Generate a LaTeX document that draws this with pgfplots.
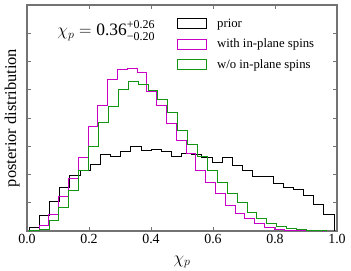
\documentclass[border=0pt]{standalone}
\usepackage{fontspec}
\setmainfont{Liberation Serif}
\usepackage{pgfplots}
\pgfplotsset{compat=1.18}
\definecolor{cmag}{RGB}{200,0,200}
\definecolor{cgrn}{RGB}{20,150,20}
\definecolor{cframe}{RGB}{115,115,115}
\begin{document}
\begin{tikzpicture}
\begin{axis}[name=ax,
  width=310bp, height=226bp, scale only axis,
  xmin=0, xmax=1, ymin=0, ymax=8,
  xtick={0,0.2,0.4,0.6,0.8,1.0},
  ytick={0,1,2,3,4,5,6,7,8}, yticklabels={},
  /pgf/number format/assume math mode=true,
  xticklabel style={/pgf/number format/.cd, fixed, fixed zerofill, precision=1},
  tick label style={font=\fontsize{14}{16}\selectfont},
  tick align=inside,
  major tick length=4bp,
  tick style={cframe, line width=0.8pt},
  axis line style={cframe, line width=1.2pt},
  xlabel={$\chi_p$},
  xlabel style={font=\fontsize{17}{19}\selectfont, at={(axis description cs:0.5,-0.137)}, anchor=center},
  ylabel={posterior distribution},
  ylabel style={font=\fontsize{16.5}{18}\selectfont, at={(axis description cs:-0.048,0.5)}, anchor=center},
  legend style={at={(axis description cs:0.484,0.948)}, anchor=north west, draw=none, fill=none,
    font=\fontsize{12.8}{14}\selectfont, row sep=6bp, inner sep=0pt,
    /tikz/every odd column/.append style={column sep=8bp}},
  legend cell align=left,
]
\addlegendimage{legend image code/.code={\draw[black,line width=0.9pt] (0bp,-5bp) rectangle (29bp,5bp);}}
\addlegendentry{prior}
\addlegendimage{legend image code/.code={\draw[cmag,line width=0.9pt] (0bp,-5bp) rectangle (29bp,5bp);}}
\addlegendentry{with in-plane spins}
\addlegendimage{legend image code/.code={\draw[cgrn,line width=0.9pt] (0bp,-5bp) rectangle (29bp,5bp);}}
\addlegendentry{w/o in-plane spins}

\addplot[const plot, black, line width=0.9pt, forget plot] coordinates {
(0.0071,0) (0.0071,0.14) (0.0399,0.55) (0.0726,1.06) (0.1054,1.53) (0.1382,1.98) (0.1710,2.13) (0.2037,2.36) (0.2365,2.71) (0.2693,2.65) (0.3020,2.80) (0.3348,3.01) (0.3676,2.86) (0.4003,2.90) (0.4331,2.80) (0.4659,2.65) (0.4987,2.73) (0.5314,2.71) (0.5642,2.59) (0.5970,2.43) (0.6297,2.59) (0.6625,2.32) (0.6953,2.13) (0.7280,1.94) (0.7608,1.94) (0.7936,1.68) (0.8264,1.53) (0.8591,1.46) (0.8919,1.25) (0.9247,0.93) (0.9574,0.57) (0.9902,0.57) (0.9902,0)
};
\addplot[const plot, cmag, line width=0.9pt, forget plot] coordinates {
(0.0071,0) (0.0071,0.03) (0.0387,0.21) (0.0703,0.60) (0.1019,1.21) (0.1335,1.86) (0.1652,2.59) (0.1968,3.69) (0.2284,4.45) (0.2600,5.36) (0.2916,5.71) (0.3232,5.75) (0.3548,5.62) (0.3865,4.94) (0.4181,4.44) (0.4497,3.79) (0.4813,3.20) (0.5129,2.75) (0.5445,2.15) (0.5761,1.72) (0.6078,1.33) (0.6394,0.91) (0.6710,0.62) (0.7026,0.43) (0.7342,0.26) (0.7658,0.14) (0.7974,0.07) (0.8291,0.03) (0.8607,0.01) (0.8923,0.005) (0.9239,0.005) (0.9555,0.005) (0.9555,0)
};
\addplot[const plot, cgrn, line width=0.9pt, forget plot] coordinates {
(0.0071,0) (0.0071,0.01) (0.0390,0.05) (0.0710,0.36) (0.1029,0.82) (0.1348,1.45) (0.1668,2.16) (0.1987,3.00) (0.2307,3.83) (0.2626,4.42) (0.2945,5.00) (0.3265,5.28) (0.3584,5.19) (0.3903,4.96) (0.4223,4.65) (0.4542,4.18) (0.4861,3.57) (0.5181,3.05) (0.5500,2.65) (0.5820,2.16) (0.6139,1.73) (0.6458,1.33) (0.6778,1.00) (0.7097,0.67) (0.7416,0.45) (0.7736,0.28) (0.8055,0.17) (0.8374,0.09) (0.8694,0.05) (0.9013,0.03) (0.9333,0.02) (0.9652,0.02) (0.9652,0)
};
\node[anchor=base west, font=\fontsize{17.5}{19}\selectfont] at (axis description cs:0.087,0.863)
  {$\chi_p = \mbox{0.36}^{\mbox{\fontsize{12}{13}\selectfont +0.26}}_{\mbox{\fontsize{12}{13}\selectfont −0.20}}$};
\end{axis}
\pgfresetboundingbox
\path ([xshift=-27bp,yshift=-40bp]ax.south west) rectangle ([xshift=14bp,yshift=5bp]ax.north east);
\end{tikzpicture}
\end{document}
